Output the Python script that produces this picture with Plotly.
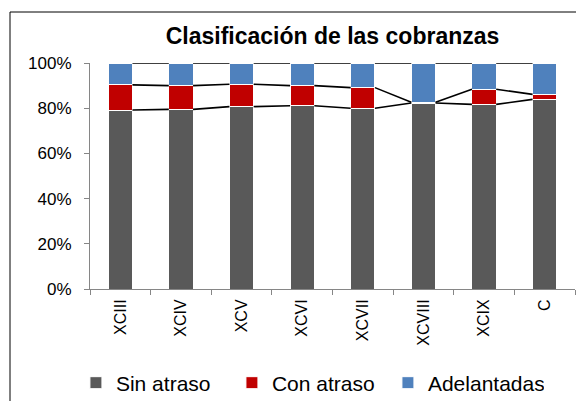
import plotly.graph_objects as go

categories = ["XCIII", "XCIV", "XCV", "XCVI", "XCVII", "XCVIII", "XCIX", "C"]
sin_atraso = [79.2, 79.5, 80.7, 81.1, 80.0, 82.3, 81.7, 83.9]
con_atraso = [11.1, 10.5, 9.9, 8.9, 9.1, 0.3, 6.7, 2.2]
adelantadas = [round(100 - a - b, 1) for a, b in zip(sin_atraso, con_atraso)]

series = [
    ("Sin atraso", sin_atraso, "#595959"),
    ("Con atraso", con_atraso, "#C00000"),
    ("Adelantadas", adelantadas, "#4F81BD"),
]

fig = go.Figure()
for name, vals, color in series:
    fig.add_trace(go.Bar(
        x=categories, y=vals, name=name, width=0.4,
        marker=dict(color=color, line=dict(color="white", width=1)),
    ))

# series lines connecting cumulative tops
half = 0.2
cum = [0.0] * len(categories)
for name, vals, color in series:
    cum = [c + v for c, v in zip(cum, vals)]
    xs, ys = [], []
    for i in range(len(categories) - 1):
        xs += [i + half, i + 1 - half, None]
        ys += [cum[i], cum[i + 1], None]
    fig.add_trace(go.Scatter(
        x=xs, y=ys, mode="lines", xaxis="x2", showlegend=False,
        line=dict(color="black", width=1.6), hoverinfo="skip",
    ))

fig.update_layout(
    width=576, height=401,
    margin=dict(l=90, r=1, t=63, b=112, autoexpand=False),
    paper_bgcolor="white", plot_bgcolor="white",
    barmode="stack",
    font=dict(family="Liberation Sans, Arial, sans-serif", color="black"),
    title=dict(text="<b>Clasificación de las cobranzas</b>", x=0.5, xref="paper",
               xanchor="center", y=1 - 36 / 401, yref="container", yanchor="middle",
               font=dict(size=23)),
    xaxis=dict(type="category", tickangle=-90, tickson="boundaries",
               ticks="outside", ticklen=5, tickcolor="#868686",
               showline=True, linecolor="#868686", linewidth=1,
               tickfont=dict(size=16), showgrid=False, range=[-0.5, 7.5],
               automargin=False, ticklabelstandoff=3),
    xaxis2=dict(overlaying="x", range=[-0.5, 7.5], visible=False, showgrid=False),
    yaxis=dict(range=[0, 100], tickvals=[0, 20, 40, 60, 80, 100],
               ticktext=["0%", "20%", "40%", "60%", "80%", "100%"],
               ticks="outside", ticklen=5, tickcolor="#868686",
               showline=True, linecolor="#868686", linewidth=1,
               showgrid=False, tickfont=dict(size=17), zeroline=False,
               automargin=False, ticklabelstandoff=9),
    legend=dict(orientation="h", x=-0.029, xanchor="left", y=-0.416, yanchor="middle",
                font=dict(size=21), itemwidth=30, traceorder="normal",
                entrywidth=111, entrywidthmode="pixels"),
    bargap=0.6,
    shapes=[dict(type="rect", xref="paper", yref="paper",
                 x0=(10 - 90) / 485, x1=(582 - 90) / 485,
                 y0=(289 - 402) / 226, y1=(289 - 12) / 226,
                 line=dict(color="black", width=1), layer="below")],
)

fig.write_html("out.html", post_script="document.body.style.margin='0';",
               config={"displayModeBar": False})
